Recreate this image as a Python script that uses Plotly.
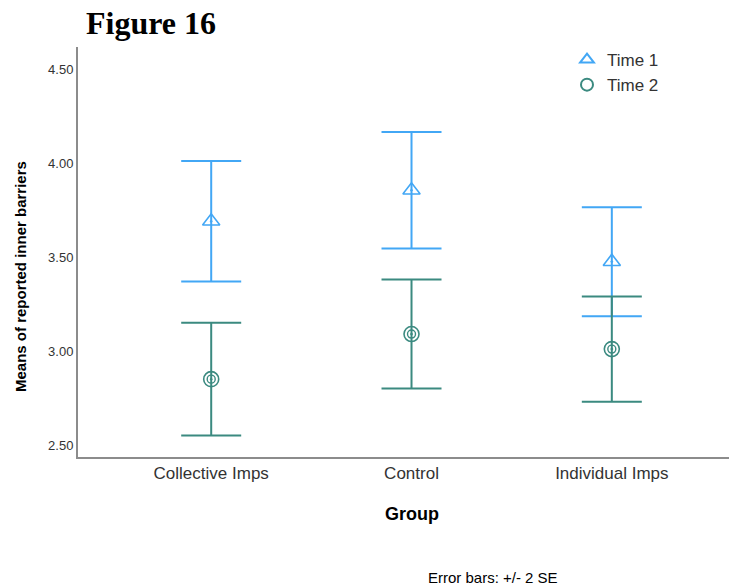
import plotly.graph_objects as go

# Group means of reported inner barriers, with +/- 2 SE half-widths
groups = ["Collective Imps", "Control", "Individual Imps"]
time1_mean = [3.69, 3.855, 3.475]
time1_err = [0.32, 0.31, 0.29]
time2_mean = [2.85, 3.09, 3.01]
time2_err = [0.30, 0.29, 0.28]

y_ticks = [2.5, 3.0, 3.5, 4.0, 4.5]
y_tick_text = ["2.50", "3.00", "3.50", "4.00", "4.50"]

C_T1 = "#42a7f5"
C_T2 = "#3b8a80"

fig = go.Figure()


def add_series(mean, err, color, symbol, name):
    fig.add_trace(go.Scatter(
        x=groups, y=mean, mode="markers", name=name, showlegend=False,
        marker=dict(symbol=symbol, size=15, color=color,
                    line=dict(color=color, width=1.6)),
        error_y=dict(type="data", array=err, visible=True,
                     color=color, thickness=2, width=30),
    ))
    # legend entry uses a plain open symbol
    fig.add_trace(go.Scatter(
        x=[None], y=[None], mode="markers", name=name,
        marker=dict(symbol=symbol.replace("-dot", ""), size=16, color=color,
                    line=dict(color=color, width=1.8)),
    ))


add_series(time1_mean, time1_err, C_T1, "triangle-up-open-dot", "Time 1")
add_series(time2_mean, time2_err, C_T2, "circle-open-dot", "Time 2")
# inner ring of the Time 2 marker
fig.add_trace(go.Scatter(
    x=groups, y=time2_mean, mode="markers", showlegend=False, hoverinfo="skip",
    marker=dict(symbol="circle-open", size=8, color=C_T2,
                line=dict(color=C_T2, width=1.4)),
))

fig.update_layout(
    width=729, height=588,
    margin=dict(l=78, r=0, t=47, b=131),
    plot_bgcolor="white", paper_bgcolor="white",
    font=dict(family="Arial, Liberation Sans, sans-serif", color="#333333"),
    xaxis=dict(
        range=[-0.665, 2.585], showgrid=False, zeroline=False,
        showline=True, linecolor="#8c8c8c", linewidth=2,
        ticks="", tickfont=dict(size=17, color="#333333"),
    ),
    yaxis=dict(
        range=[2.436, 4.617], showgrid=False, zeroline=False,
        showline=True, linecolor="#8c8c8c", linewidth=2,
        tickvals=y_ticks, ticktext=y_tick_text, ticks="",
        tickfont=dict(size=13, color="#333333"),
    ),
    legend=dict(
        x=(567 - 78) / 651, y=1 + (47 - 42) / 410, xanchor="left", yanchor="top",
        bgcolor="rgba(0,0,0,0)", font=dict(size=17, color="#333333"),
        tracegroupgap=0, itemsizing="constant",
    ),
    showlegend=True,
)

fig.add_annotation(
    text="<b>Figure 16</b>", xref="paper", yref="paper",
    x=(84 - 78) / 651, y=1 + (47 - 23) / 410, xanchor="left", yanchor="middle",
    showarrow=False, font=dict(family="Liberation Serif, Times New Roman, serif",
                               size=32, color="black"),
)
fig.add_annotation(
    text="<b>Means of reported inner barriers</b>", xref="paper", yref="paper",
    x=(20 - 78) / 651, y=(457 - 277) / 410, xanchor="center", yanchor="middle",
    textangle=-90, showarrow=False, font=dict(size=15, color="black"),
)
fig.add_annotation(
    text="<b>Group</b>", xref="paper", yref="paper",
    x=(412 - 78) / 651, y=-(514 - 457) / 410, xanchor="center", yanchor="middle",
    showarrow=False, font=dict(size=18, color="black"),
)
fig.add_annotation(
    text="Error bars: +/- 2 SE", xref="paper", yref="paper",
    x=(426 - 78) / 651, y=-(577 - 457) / 410, xanchor="left", yanchor="middle",
    showarrow=False, font=dict(size=15, color="black"),
)

fig.write_html("out.html")
